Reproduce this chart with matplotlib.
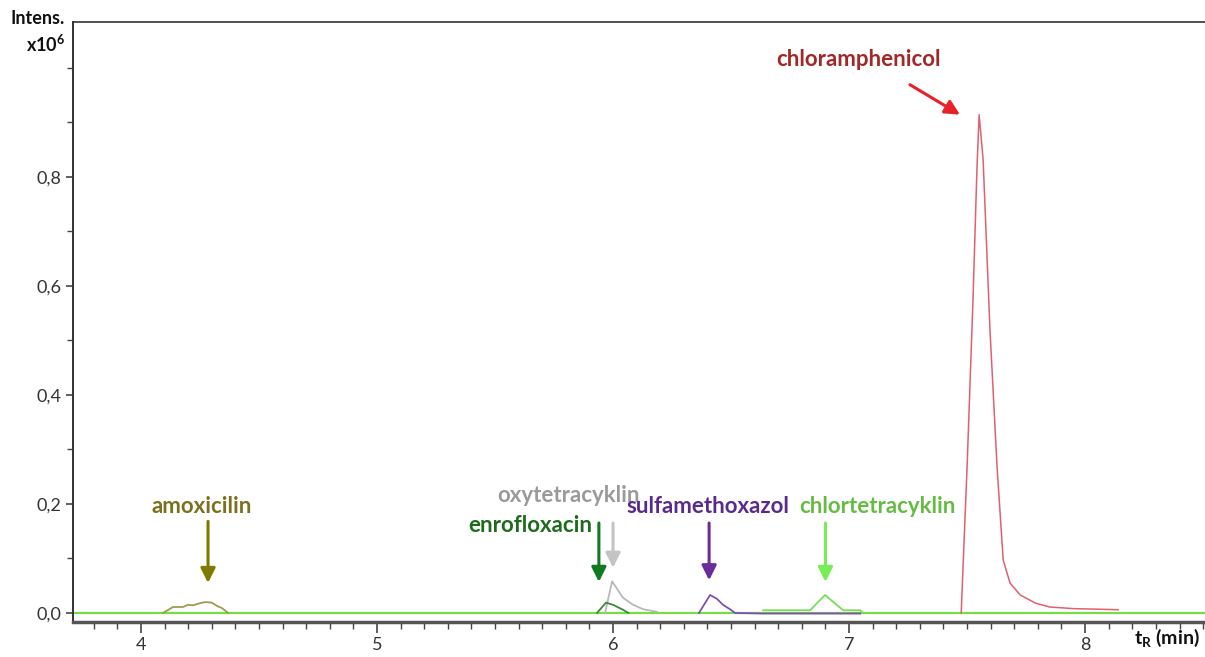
import numpy as np
import matplotlib.pyplot as plt
from matplotlib.ticker import MultipleLocator, FixedLocator, FuncFormatter

plt.rcParams['font.family'] = ['Lato', 'DejaVu Sans']

# traces (t in min, intensity in 1e6)
amox_t = [4.093, 4.136, 4.178, 4.199, 4.22, 4.25, 4.271, 4.30, 4.322, 4.343, 4.369]
amox_i = [0.0, 0.011, 0.011, 0.015, 0.014, 0.018, 0.020, 0.019, 0.013, 0.009, 0.0]

enro_t = [5.932, 5.97, 6.0, 6.042, 6.065]
enro_i = [0.0, 0.019, 0.015, 0.006, 0.0]

oxy_t = [5.966, 5.996, 6.042, 6.085, 6.127, 6.186]
oxy_i = [0.0, 0.058, 0.028, 0.015, 0.007, 0.002]

sulfa_t = [6.364, 6.411, 6.44, 6.466, 6.495, 6.517, 6.636, 7.047]
sulfa_i = [0.0, 0.033, 0.026, 0.015, 0.007, 0.0, -0.001, -0.001]

chlort_t = [6.636, 6.835, 6.898, 6.975, 7.047, 7.06]
chlort_i = [0.005, 0.005, 0.033, 0.005, 0.005, 0.0]

chlor_t = [7.475, 7.50, 7.525, 7.542, 7.551, 7.568, 7.597, 7.627, 7.653,
           7.682, 7.725, 7.79, 7.85, 7.95, 8.05, 8.14]
chlor_i = [0.0, 0.268, 0.574, 0.818, 0.914, 0.831, 0.519, 0.268, 0.097,
           0.055, 0.033, 0.018, 0.011, 0.008, 0.007, 0.006]

labels = ['amoxicilin', 'enrofloxacin', 'oxytetracyklin', 'sulfamethoxazol',
          'chlortetracyklin', 'chloramphenicol']
label_xy = [(4.258, 0.195), (5.65, 0.161), (5.81, 0.215), (6.40, 0.195),
            (7.12, 0.195), (7.038, 1.015)]
arrow_from = [(4.284, 0.168), (5.94, 0.165), (6.0, 0.165), (6.407, 0.165),
              (6.90, 0.165), (7.258, 0.969)]
arrow_to = [(4.284, 0.055), (5.94, 0.057), (6.0, 0.083), (6.407, 0.06),
            (6.90, 0.057), (7.47, 0.914)]
text_colors = ['#7a7020', '#1e6b1e', '#9a9a9a', '#5a2a8a', '#66bb44', '#a02828']
arrow_colors = ['#7f7a00', '#0f7a1f', '#c4c4c4', '#6a2d9a', '#77ee55', '#e8202a']

fig = plt.figure(figsize=(12.05, 6.57), dpi=100)
ax = fig.add_axes([0.0606, 0.0533, 0.9394, 0.9132])

ax.axhline(0, color='#77dd44', lw=1.6, zorder=1)
ax.plot(amox_t, amox_i, color='#a09a50', lw=1.3, zorder=2)
ax.plot(oxy_t, oxy_i, color='#b8b8b8', lw=1.3, zorder=2)
ax.plot(enro_t, enro_i, color='#3a8a3a', lw=1.3, zorder=3)
ax.plot(sulfa_t, sulfa_i, color='#8050b0', lw=1.3, zorder=2)
ax.plot(chlort_t, chlort_i, color='#77dd55', lw=1.3, zorder=3)
ax.plot(chlor_t, chlor_i, color='#e06070', lw=1.1, zorder=2)

for lab, (tx, ty), p0, p1, tc, ac in zip(labels, label_xy, arrow_from, arrow_to,
                                         text_colors, arrow_colors):
    ax.text(tx, ty, lab, color=tc, fontsize=16, fontweight='bold',
            ha='center', va='center')
    ax.annotate('', xy=p1, xytext=p0,
                arrowprops=dict(arrowstyle='-|>', color=ac, lw=2.2,
                                mutation_scale=22, shrinkA=0, shrinkB=0))

ax.set_xlim(3.712, 8.508)
ax.set_ylim(-0.0165, 1.084)
ax.xaxis.set_major_locator(MultipleLocator(1))
ax.xaxis.set_minor_locator(MultipleLocator(0.1))
ax.yaxis.set_major_locator(FixedLocator([0.0, 0.2, 0.4, 0.6, 0.8]))
ax.yaxis.set_minor_locator(FixedLocator([0.1, 0.3, 0.5, 0.7, 0.9, 1.0]))
ax.yaxis.set_major_formatter(FuncFormatter(lambda v, p: f'{v:.1f}'.replace('.', ',')))
ax.tick_params(axis='x', which='major', length=8, width=1.2, color='#444444',
               labelsize=13, labelcolor='#333333', pad=3)
ax.tick_params(axis='x', which='minor', length=5, width=1.0, color='#444444')
ax.tick_params(axis='y', which='major', length=5, width=1.2, color='#444444',
               labelsize=13, labelcolor='#333333')
ax.tick_params(axis='y', which='minor', length=4, width=1.0, color='#444444')

ax.spines['right'].set_visible(False)
ax.spines['left'].set_color('#333333')
ax.spines['left'].set_linewidth(1.4)
ax.spines['top'].set_color('#333333')
ax.spines['top'].set_linewidth(1.2)
ax.spines['bottom'].set_color('#555555')
ax.spines['bottom'].set_linewidth(2.5)

fig.text(0.054, 0.972, 'Intens.', ha='right', va='center', fontsize=13,
         fontweight='bold', color='#111111')
fig.text(0.054, 0.932, 'x10$^\\mathregular{6}$', ha='right', va='center', fontsize=13,
         fontweight='bold', color='#111111')
fig.text(0.996, 0.012, 't$_\\mathregular{R}$ (min)', ha='right', va='bottom',
         fontsize=14, fontweight='bold', color='#111111')

fig.savefig('out.png', dpi=100)
